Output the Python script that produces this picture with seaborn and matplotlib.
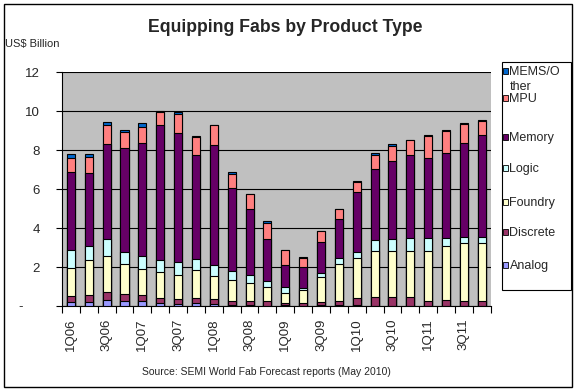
import numpy as np
import pandas as pd
import matplotlib.pyplot as plt
import seaborn as sns
from matplotlib.patches import Rectangle
from matplotlib.transforms import ScaledTranslation

# quarters 1Q06 .. 4Q11
quarters = [f"{q}Q{y:02d}" for y in range(6, 12) for q in range(1, 5)]

# US$ billion per product type
analog = [0.19, 0.19, 0.31, 0.26, 0.24, 0.14, 0.09, 0.14, 0.10, 0.05, 0.03, 0.02,
          0.03, 0.02, 0.03, 0.07, 0.07, 0.02, 0.02, 0.02, 0.02, 0.02, 0.02, 0.02]
discrete = [0.31, 0.38, 0.39, 0.34, 0.31, 0.25, 0.27, 0.25, 0.26, 0.23, 0.25, 0.26,
            0.12, 0.13, 0.17, 0.21, 0.36, 0.42, 0.42, 0.46, 0.26, 0.31, 0.26, 0.26]
foundry = [1.43, 1.80, 1.85, 1.55, 1.33, 1.35, 1.21, 1.44, 1.16, 1.03, 0.92, 0.69,
           0.51, 0.69, 1.28, 1.87, 2.01, 2.40, 2.37, 2.36, 2.56, 2.77, 2.93, 2.98]
logic = [0.93, 0.72, 0.87, 0.60, 0.67, 0.60, 0.69, 0.56, 0.57, 0.51, 0.41, 0.29,
         0.29, 0.09, 0.19, 0.29, 0.34, 0.56, 0.64, 0.66, 0.63, 0.40, 0.35, 0.30]
memory = [4.00, 3.74, 4.92, 5.34, 5.84, 6.93, 6.60, 5.34, 6.20, 4.26, 3.36, 2.16,
          1.14, 1.06, 1.64, 2.05, 3.09, 3.65, 4.01, 4.27, 4.15, 4.38, 4.82, 5.24]
mpu = [0.76, 0.84, 0.93, 0.87, 0.82, 0.68, 1.02, 0.97, 0.98, 0.72, 0.76, 0.85,
       0.77, 0.47, 0.53, 0.48, 0.48, 0.72, 0.77, 0.73, 1.11, 1.10, 0.97, 0.70]
mems = [0.21, 0.16, 0.17, 0.10, 0.17, 0.08, 0.07, 0.04, 0.01, 0.07, 0.02, 0.07,
        0.04, 0.05, 0.01, 0.03, 0.05, 0.07, 0.07, 0.04, 0.03, 0.05, 0.05, 0.05]

series = ['Analog', 'Discrete', 'Foundry', 'Logic', 'Memory', 'MPU', 'MEMS/Other']
colors = {'Analog': '#9999FF', 'Discrete': '#993366', 'Foundry': '#FFFFCC',
          'Logic': '#CCFFFF', 'Memory': '#660066', 'MPU': '#FF8080',
          'MEMS/Other': '#0066CC'}

df = pd.DataFrame({'Analog': analog, 'Discrete': discrete, 'Foundry': foundry,
                   'Logic': logic, 'Memory': memory, 'MPU': mpu,
                   'MEMS/Other': mems}, index=quarters)
stack = df[series].cumsum(axis=1)

sns.set_theme(style='white')
plt.rcParams['font.family'] = ['Liberation Sans', 'DejaVu Sans']

W, H = 576, 391
fig = plt.figure(figsize=(W / 100, H / 100), dpi=100)
ax = fig.add_axes([62 / W, 1 - 306 / H, (490.7 - 62) / W, (306 - 72.3) / H])
ax.set_facecolor('#C0C0C0')

# stacked bars: draw the cumulative totals from the top layer down
for name in reversed(series):
    sns.barplot(x=quarters, y=stack[name].values, color=colors[name],
                saturation=1, width=0.45, edgecolor='black', linewidth=0.8,
                ax=ax, zorder=3)

ax.set_xlim(-0.5, len(quarters) - 0.5)
ax.set_ylim(0, 12)
ax.yaxis.grid(True, color='black', linewidth=0.8)
ax.set_axisbelow(True)

# Excel accounting format shows zero as a dash, set off to the left
ax.set_yticks(range(0, 13, 2))
ax.set_yticklabels(['-'] + [str(v) for v in range(2, 13, 2)], fontsize=9.5)
ax.tick_params(axis='y', direction='out', length=4, width=0.8, color='black',
               left=True, pad=12)
zero_lbl = ax.get_yticklabels()[0]
zero_lbl.set_transform(zero_lbl.get_transform()
                       + ScaledTranslation(-0.17, 0, fig.dpi_scale_trans))

ax.set_xticks(range(0, len(quarters), 2))
ax.set_xticklabels(quarters[::2], rotation=90, fontsize=9.5)
ax.set_xticks(np.arange(-0.5, len(quarters), 1), minor=True)
ax.tick_params(axis='x', which='major', length=0, pad=9)
ax.tick_params(axis='x', which='minor', direction='out', length=5, width=0.8,
               color='black', bottom=True)
ax.set_xlabel('')
ax.set_ylabel('')

for s in ['top', 'right']:
    ax.spines[s].set_visible(False)
for s in ['left', 'bottom']:
    ax.spines[s].set_color('black')
    ax.spines[s].set_linewidth(0.8)

fig.text(285 / W, 1 - 27 / H, 'Equipping Fabs by Product Type', ha='center',
         va='center', fontsize=12.7, fontweight='bold')
fig.text(5 / W, 1 - 44 / H, 'US$ Billion', ha='left', va='center', fontsize=8)
fig.text(266 / W, 1 - 372 / H, 'Source: SEMI World Fab Forecast reports (May 2010)',
         ha='center', va='center', fontsize=7.5)

# outer chart border
fig.patches.append(Rectangle((4 / W, 4 / H), 568 / W, 383 / H, transform=fig.transFigure,
                             fill=False, edgecolor='black', linewidth=1))

# legend box, Excel style
fig.patches.append(Rectangle((502 / W, 1 - 290 / H), 69 / W, 228 / H,
                             transform=fig.transFigure, fill=False,
                             edgecolor='black', linewidth=0.8))
legend_rows = [('MEMS/Other', 'MEMS/O\nther', 71), ('MPU', 'MPU', 98),
               ('Memory', 'Memory', 137), ('Logic', 'Logic', 168),
               ('Foundry', 'Foundry', 202), ('Discrete', 'Discrete', 232),
               ('Analog', 'Analog', 265)]
for name, label, ypx in legend_rows:
    fig.patches.append(Rectangle((503 / W, 1 - (ypx + 3) / H), 5 / W, 6 / H,
                                 transform=fig.transFigure, facecolor=colors[name],
                                 edgecolor='black', linewidth=0.6))
    if '\n' in label:
        fig.text(509.5 / W, 1 - (ypx - 5) / H, label, ha='left', va='top',
                 fontsize=9, linespacing=1.3)
    else:
        fig.text(509.5 / W, 1 - (ypx + 4) / H, label, ha='left', va='baseline',
                 fontsize=9)

fig.savefig('out.png', dpi=100)
